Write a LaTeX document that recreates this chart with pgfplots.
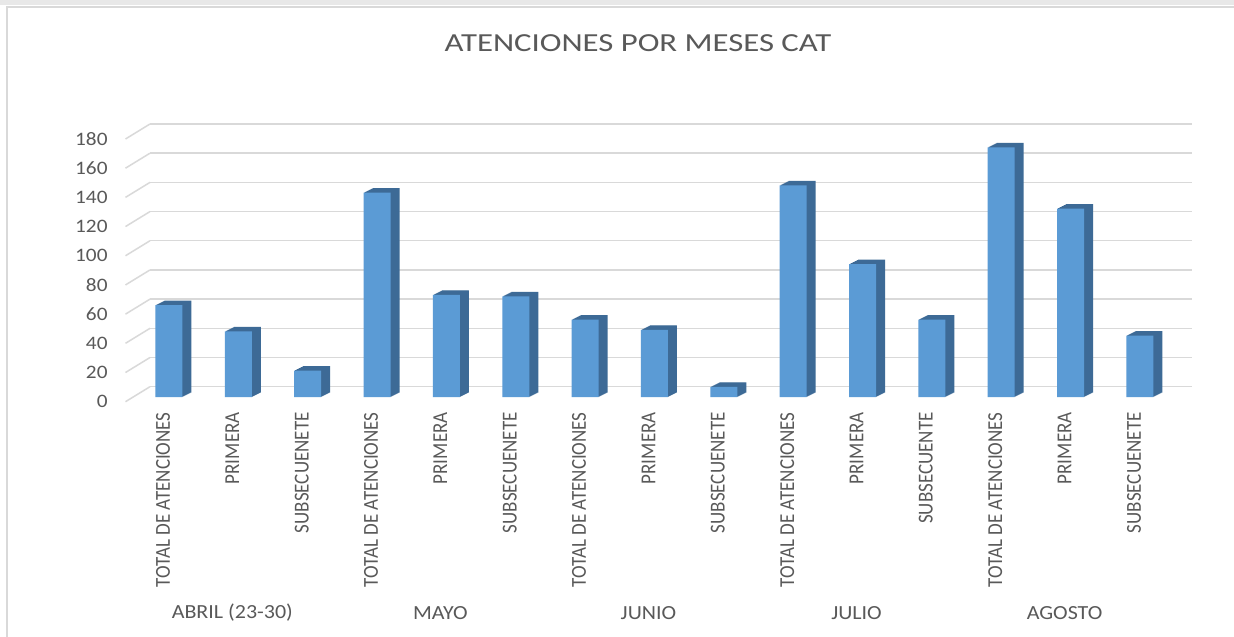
\documentclass[border=0pt]{standalone}
\usepackage{pgfplots}
\pgfplotsset{compat=1.18}
\usepackage{pgfplotstable}
\usepackage{fontspec}
\setmainfont{Carlito}
\definecolor{txt}{HTML}{595959}
\definecolor{barfront}{HTML}{5B9BD5}
\definecolor{barside}{HTML}{3D6A96}
\definecolor{gridc}{HTML}{D9D9D9}
\pgfplotstableread{
x y
0 63
1 45
2 18
3 140
4 70
5 69
6 53
7 46
8 7
9 145
10 91
11 53
12 171
13 129
14 42
}\datatable
\begin{document}
\begin{tikzpicture}[x=1pt,y=1pt]
\fill[white] (0,0) rectangle (617,318);
\path[use as bounding box] (0,0) rectangle (617,318);
\fill[gridc!60] (0,315.5) rectangle (617,318);
\draw[gridc, line width=0.6pt] (3.5,-1) -- (3.5,314.5) -- (618,314.5);
\node[text=txt, font=\fontsize{13}{15}\selectfont, xscale=1.26, inner sep=0pt] at (319,296.25) {ATENCIONES POR MESES CAT};

% back wall with gridlines
\begin{axis}[at={(75pt,124.65pt)}, anchor=south west, scale only axis,
  width=520.85pt, height=131.35pt, xmin=0, xmax=1, ymin=0, ymax=180,
  ytick={0,20,...,180}, xtick=\empty, yticklabels={},
  ymajorgrids, major grid style={gridc, line width=0.75pt},
  axis line style={draw=none}, major tick length=0pt, clip=false]
\pgfplotsinvokeforeach{0,20,...,180}{\draw[gridc, line width=0.75pt] (axis cs:0,#1) -- ++(-12.25pt,-7.5pt);}
\end{axis}

% front: bars and labels
\begin{axis}[at={(67.15pt,119.5pt)}, anchor=south west, scale only axis,
  width=520.15pt, height=131.4pt, xmin=-0.5, xmax=14.5, ymin=0, ymax=180,
  axis line style={draw=none}, major tick length=0pt,
  /pgf/number format/assume math mode=true,
  xtick={0,...,14},
  xticklabels={TOTAL DE ATENCIONES, PRIMERA, SUBSECUENETE, TOTAL DE ATENCIONES, PRIMERA, SUBSECUENETE, TOTAL DE ATENCIONES, PRIMERA, SUBSECUENETE, TOTAL DE ATENCIONES, PRIMERA, SUBSECUENTE, TOTAL DE ATENCIONES, PRIMERA, SUBSECUENETE},
  ytick={0,20,...,180},
  tick label style={font=\fontsize{9.5}{11}\selectfont, text=txt},
  yticklabel style={anchor=east, inner sep=0pt, xshift=-13.15pt, yshift=-2.35pt, xscale=1.12},
  xticklabel style={inner sep=0pt, xshift=-3pt, yshift=-7.5pt, xscale=1.12, rotate=90, anchor=east},
  clip=false]
\pgfplotsinvokeforeach{9,8,...,1}{
  \addplot[ybar, bar width=13.5pt, fill=barside, draw=none, forget plot,
    transform canvas={xshift=#1*0.5pt, yshift=#1*0.25pt}] table[x=x,y=y]{\datatable};
}
\addplot[ybar, bar width=13.5pt, fill=barfront, draw=none] table[x=x,y=y]{\datatable};
\path (axis cs:1,0) ++(-3pt,-108pt) node[text=txt, font=\fontsize{10}{12}\selectfont, xscale=1.1] {ABRIL (23-30)};
\path (axis cs:4,0) ++(-3pt,-108pt) node[text=txt, font=\fontsize{10}{12}\selectfont, xscale=1.1] {MAYO};
\path (axis cs:7,0) ++(-3pt,-108pt) node[text=txt, font=\fontsize{10}{12}\selectfont, xscale=1.1] {JUNIO};
\path (axis cs:10,0) ++(-3pt,-108pt) node[text=txt, font=\fontsize{10}{12}\selectfont, xscale=1.1] {JULIO};
\path (axis cs:13,0) ++(-3pt,-108pt) node[text=txt, font=\fontsize{10}{12}\selectfont, xscale=1.1] {AGOSTO};
\end{axis}
\end{tikzpicture}
\end{document}
